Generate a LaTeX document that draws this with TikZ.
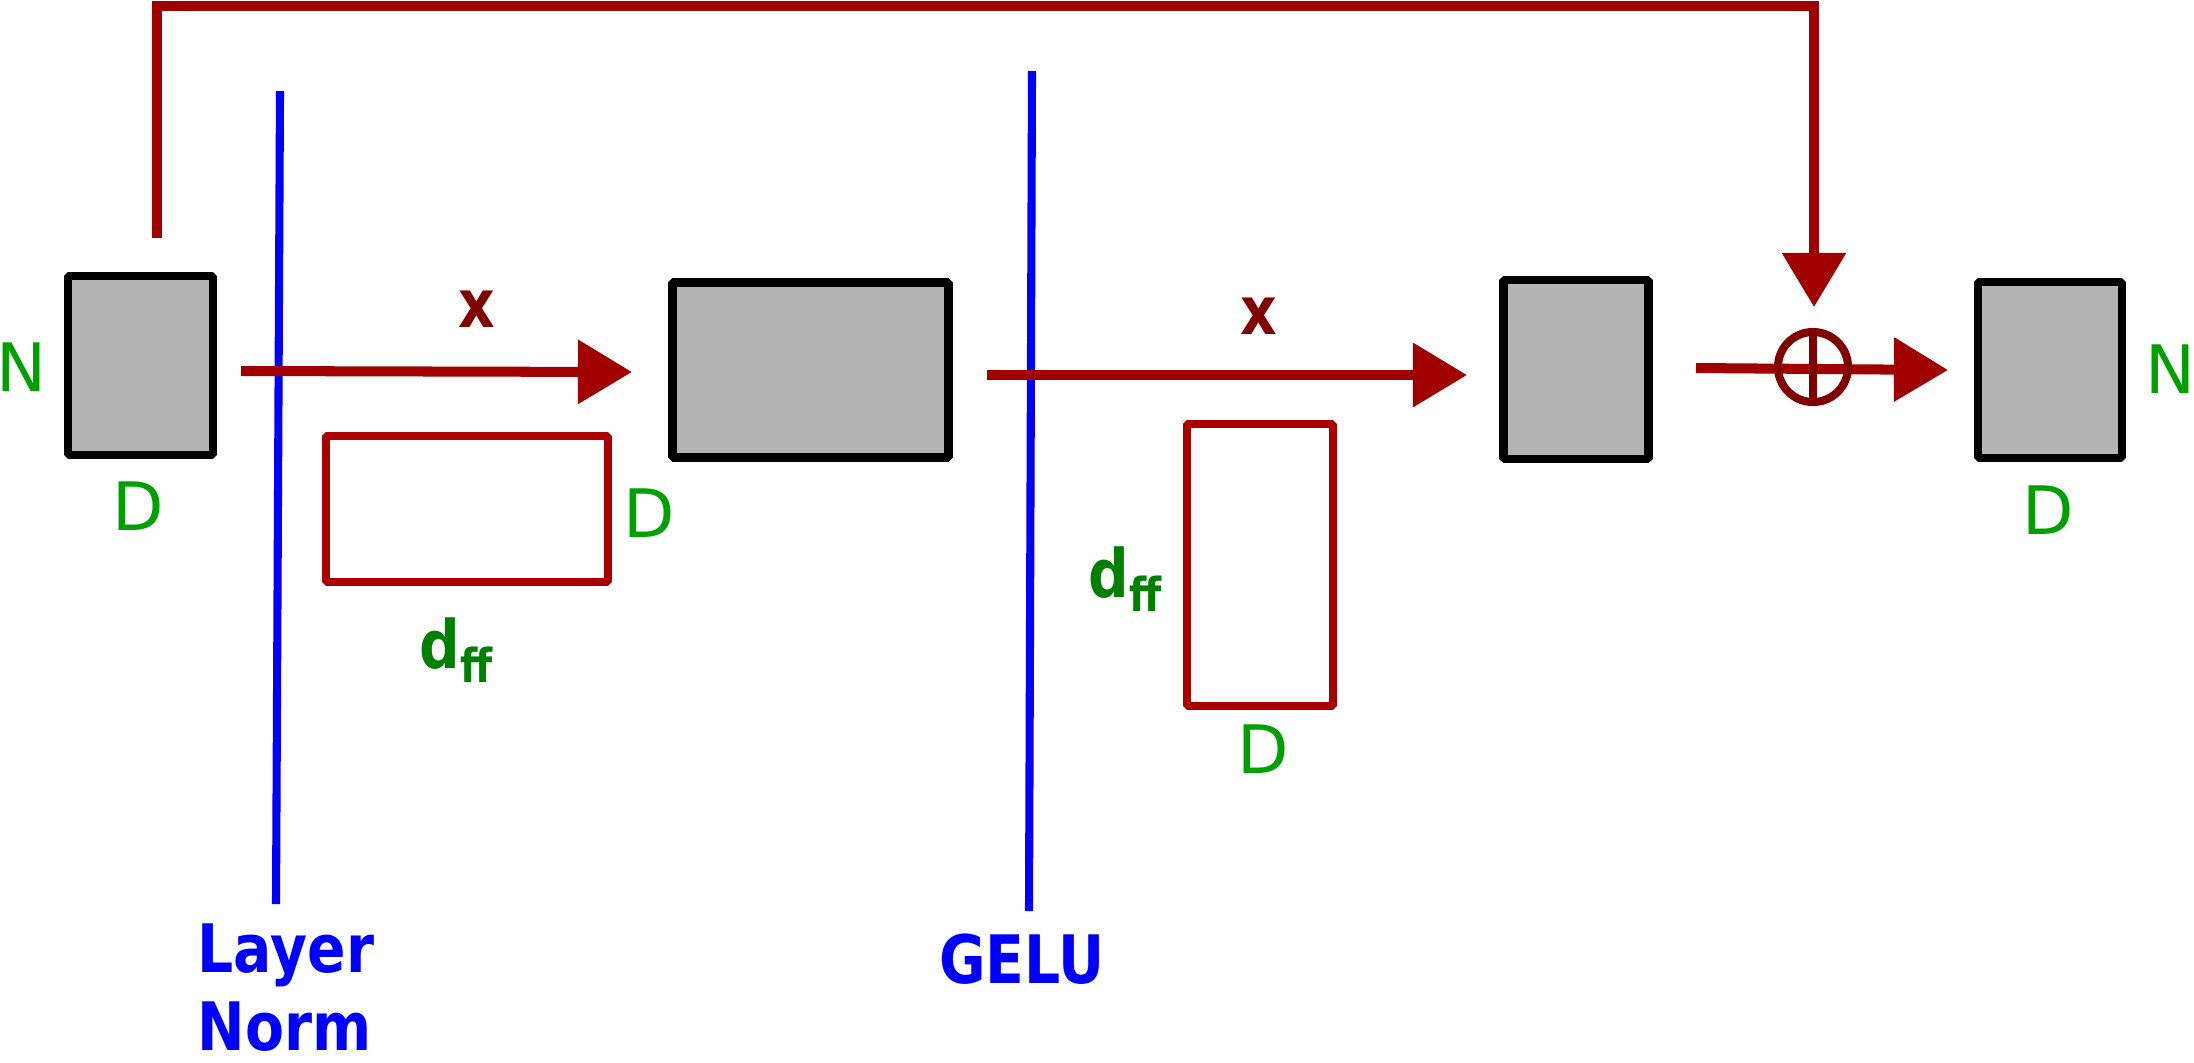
\documentclass[tikz,border=0pt]{standalone}
\usepackage{fontspec}
\setmainfont{DejaVu Sans}
\newfontfamily\bnfont{DejaVu Sans}[FakeStretch=0.85]
\usetikzlibrary{arrows.meta}
\definecolor{boxgray}{HTML}{B3B3B3}
\definecolor{flowred}{HTML}{A00000}
\definecolor{boxred}{HTML}{AA0000}
\definecolor{darkred}{HTML}{800000}
\definecolor{dimgreen}{HTML}{00A000}
\definecolor{subgreen}{HTML}{008000}
\definecolor{guideblue}{HTML}{0000FF}
\tikzset{
  graybox/.style={draw=black, fill=boxgray, line width=2.5pt, line join=bevel, inner sep=0pt, rectangle},
  redbox/.style={draw=boxred, line width=2.3pt, line join=bevel, inner sep=0pt, rectangle},
  flow/.style={draw=flowred, line width=2.85pt, -{Triangle[length=0.54cm,width=0.62cm]}},
  guide/.style={draw=guideblue, line width=2.3pt},
  dimlbl/.style={text=dimgreen, font=\fontsize{19}{23}\selectfont, anchor=base, inner sep=0pt},
  fflbl/.style={text=subgreen, font=\bnfont\bfseries\fontsize{19}{23}\selectfont, anchor=base, inner sep=0pt},
  xlbl/.style={text=darkred, font=\bnfont\bfseries\fontsize{19}{23}\selectfont, anchor=base, inner sep=0pt},
  oplab/.style={text=guideblue, font=\bnfont\bfseries\fontsize{19}{23}\selectfont, inner sep=0pt},
  addnode/.style={circle, draw=darkred, line width=2.3pt, minimum size=0.70cm, inner sep=0pt}
}
\begin{document}
\begin{tikzpicture}[x=0.01cm,y=-0.01cm]
\useasboundingbox (0,0) rectangle (2194,1062);

% blue guide lines
\coordinate (lntop) at (280,91);
\coordinate (lnbot) at (276,904);
\coordinate (getop) at (1032,71);
\coordinate (gebot) at (1029,911);
\draw[guide] (lntop) -- (lnbot);
\draw[guide] (getop) -- (gebot);

% matrices
\node[graybox, minimum width=1.45cm, minimum height=1.79cm] (box1) at (140.5,365.5) {};
\node[graybox, minimum width=2.76cm, minimum height=1.75cm] (box2) at (810.5,370) {};
\node[graybox, minimum width=1.45cm, minimum height=1.79cm] (box3) at (1576,369.5) {};
\node[graybox, minimum width=1.44cm, minimum height=1.76cm] (box4) at (2050,370) {};
\node[redbox, minimum width=2.82cm, minimum height=1.46cm] (w1) at (467,509) {};
\node[redbox, minimum width=1.46cm, minimum height=2.82cm] (w2) at (1260,565) {};

% flow arrows
\coordinate (a1s) at (241,371);
\coordinate (a1e) at (632,372);
\coordinate (a2s) at (987,375);
\coordinate (a2e) at (1467,375);
\coordinate (a3s) at (1696,368);
\coordinate (a3e) at (1948,370);
\draw[flow] (a1s) -- (a1e);
\draw[flow] (a2s) -- (a2e);
\draw[flow] (a3s) -- (a3e);

% residual connection
\coordinate (skips) at (157,238);
\coordinate (skiptop) at (1000,6);
\coordinate (skipe) at (1814,307);
\draw[flow, line width=2.6pt, line join=miter] (skips) |- (skiptop) -| (skipe);

% add node
\node[addnode] (add) at (1813,367) {};
\draw[darkred, line width=2.3pt] (add.north) -- (add.south);

% dimension labels
\node[dimlbl] (n1) at (21,391) {N};
\node[dimlbl] (d1) at (138,530) {D};
\node[dimlbl] (d2) at (649,537) {D};
\node[fflbl] (f1) at (457,668) {d\textsubscript{ff}};
\node[fflbl] (f2) at (1126,597) {d\textsubscript{ff}};
\node[dimlbl] (d3) at (1263,773) {D};
\node[dimlbl] (d4) at (2048,534) {D};
\node[dimlbl] (n2) at (2170,393) {N};

% x labels
\node[xlbl] (x1) at (477,327) {x};
\node[xlbl] (x2) at (1259,334) {x};

% operation labels
\node[oplab, anchor=base west] (ln1) at (197,972) {Layer};
\node[oplab, anchor=base west] (ln2) at (197,1050) {Norm};
\node[oplab, anchor=base] (gelu) at (1022,983) {GELU};
\end{tikzpicture}
\end{document}
